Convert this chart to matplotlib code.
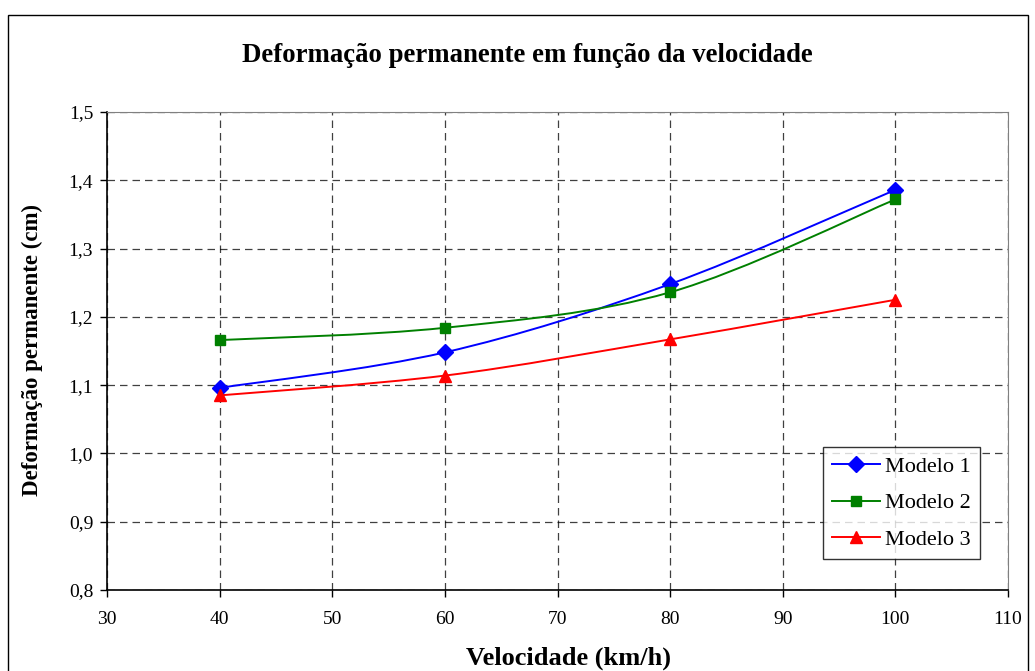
import matplotlib
matplotlib.use("Agg")
import matplotlib.pyplot as plt
from matplotlib.path import Path
from matplotlib.patches import PathPatch, Rectangle
from matplotlib.lines import Line2D
from matplotlib.ticker import FuncFormatter

# data
velocidade = [40, 60, 80, 100]
modelo_1 = [1.096, 1.148, 1.248, 1.386]
modelo_2 = [1.166, 1.184, 1.236, 1.372]
modelo_3 = [1.085, 1.114, 1.167, 1.225]
series_names = ["Modelo 1", "Modelo 2", "Modelo 3"]

plt.rcParams['font.family'] = ['Liberation Serif', 'DejaVu Serif']


def smooth_path(xs, ys):
    # Excel-like smoothed line: cubic Bezier through the points
    pts = list(zip(xs, ys))
    verts = [pts[0]]
    codes = [Path.MOVETO]
    n = len(pts)
    for i in range(n - 1):
        p0 = pts[i - 1] if i > 0 else pts[i]
        p1 = pts[i]
        p2 = pts[i + 1]
        p3 = pts[i + 2] if i + 2 < n else pts[i + 1]
        c1 = (p1[0] + (p2[0] - p0[0]) / 6, p1[1] + (p2[1] - p0[1]) / 6)
        c2 = (p2[0] - (p3[0] - p1[0]) / 6, p2[1] - (p3[1] - p1[1]) / 6)
        verts += [c1, c2, p2]
        codes += [Path.CURVE4] * 3
    return Path(verts, codes)


fig = plt.figure(figsize=(10.35, 6.71), dpi=100)
ax = fig.add_axes([0.1034, 0.1207, 0.8705, 0.7124])

# outer chart border
fig.patches.append(Rectangle((8 / 1035, -0.05), 1020 / 1035, 1.05 - 15 / 671,
                             transform=fig.transFigure, fill=False,
                             edgecolor='black', linewidth=1.0))

styles = [('#0000ff', 'D', 8), ('#008000', 's', 7.5), ('#ff0000', '^', 9)]
handles = []
for vals, name, (col, mk, ms) in zip([modelo_1, modelo_2, modelo_3], series_names, styles):
    ax.add_patch(PathPatch(smooth_path(velocidade, vals), fill=False,
                           edgecolor=col, linewidth=1.4, zorder=3))
    ax.plot(velocidade, vals, linestyle='none', marker=mk, markersize=ms,
            color=col, zorder=4)
    handles.append(Line2D([], [], color=col, marker=mk, markersize=ms,
                          linewidth=1.4, label=name))

ax.set_xlim(30, 110)
ax.set_ylim(0.8, 1.5)
ax.set_xticks(range(30, 111, 10))
ax.set_yticks([0.8, 0.9, 1.0, 1.1, 1.2, 1.3, 1.4, 1.5])
ax.yaxis.set_major_formatter(FuncFormatter(lambda v, p: f"{v:.1f}".replace('.', ',')))
ax.tick_params(labelsize=14, length=5, width=1, direction='out')
ax.tick_params(axis='x', pad=10)
ax.tick_params(axis='y', pad=5)

ax.grid(True, color='black', linestyle=(0, (6, 4)), linewidth=0.9, alpha=0.75)
ax.set_axisbelow(True)
for s in ['top', 'right']:
    ax.spines[s].set_color('#808080')
for s in ['left', 'bottom']:
    ax.spines[s].set_color('black')
    ax.spines[s].set_linewidth(1.2)

leg = ax.legend(handles=handles, loc='lower right', bbox_to_anchor=(0.969, 0.065),
                fontsize=16, frameon=True, fancybox=False, edgecolor='black',
                handlelength=2.15, borderpad=0.4, labelspacing=0.72, handletextpad=0.25,
                borderaxespad=0)
leg.get_frame().set_linewidth(1.0)

fig.text(0.5097, 0.918, "Deformação permanente em função da velocidade",
         ha='center', va='center', fontsize=19.3, fontweight='bold')
fig.text(0.549, 0.019, "Velocidade (km/h)", ha='center', va='center',
         fontsize=19, fontweight='bold')
fig.text(0.031, 0.478, "Deformação permanente (cm)", ha='center', va='center',
         rotation=90, fontsize=16.5, fontweight='bold')

fig.savefig("out.png", dpi=100)
